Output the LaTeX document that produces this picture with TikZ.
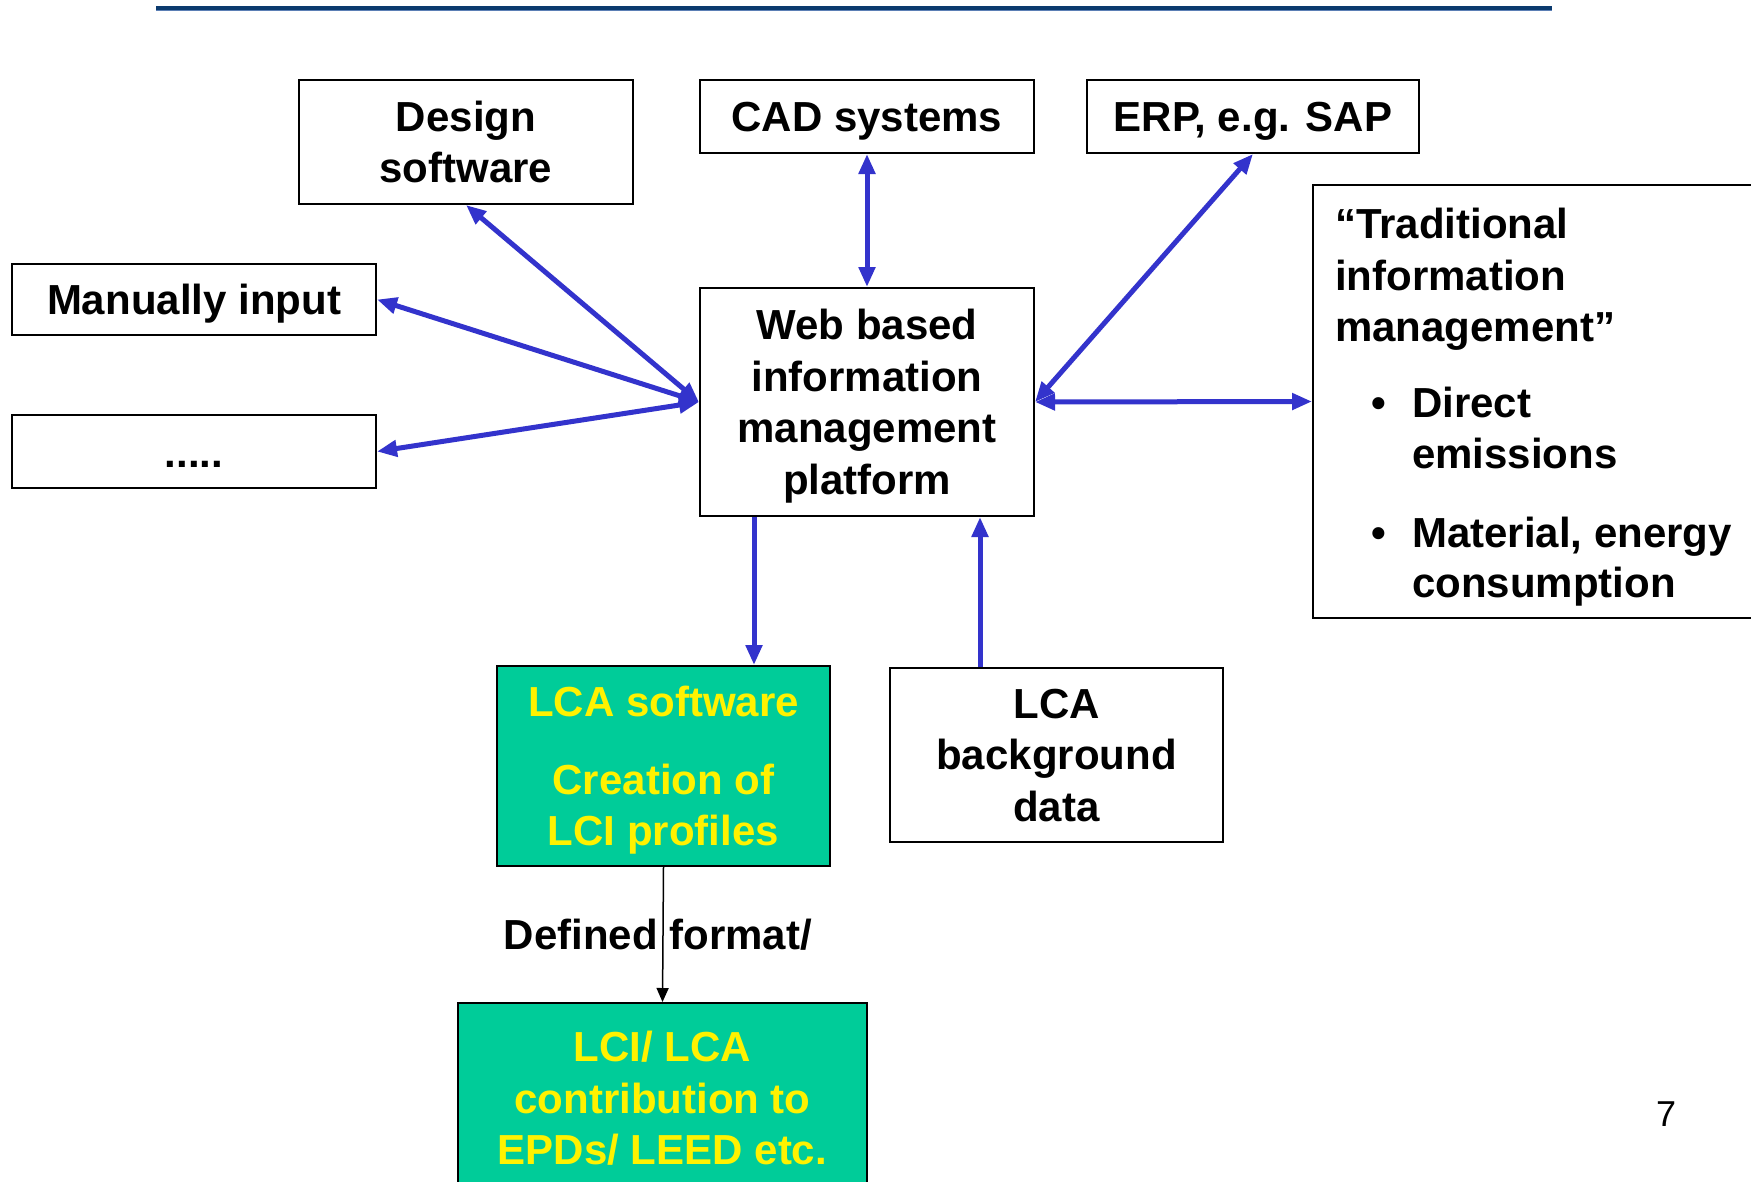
\documentclass[tikz,border=0pt]{standalone}
\usepackage{fontspec}
\setmainfont{Liberation Sans}
\usetikzlibrary{arrows.meta}
\definecolor{arrowblue}{HTML}{3333CC}
\definecolor{boxgreen}{HTML}{00CC99}
\definecolor{navy}{HTML}{0B3A6E}
\definecolor{navylight}{HTML}{5B7FB5}
\newcommand{\bigfont}{\fontsize{42}{51.5}\selectfont\bfseries}
\newcommand{\nodepth}[2][0pt]{\raisebox{0pt}[\height][#1]{#2}}
\tikzset{
 box/.style={draw=black, line width=2pt, fill=white, inner sep=0pt, align=center, font=\bigfont},
 greenbox/.style={box, fill=boxgreen, text=yellow},
 barrow/.style={draw=arrowblue, line width=5pt, {Triangle[length=20pt,width=16pt]}-{Triangle[length=20pt,width=16pt]}},
 sarrow/.style={draw=arrowblue, line width=5pt, -{Triangle[length=20pt,width=16pt]}},
 thinarrow/.style={draw=black, line width=1.5pt, -{Triangle[length=14pt,width=12pt]}},
 txt/.style={inner sep=0pt, font=\bigfont, anchor=base west},
}
\begin{document}
\begin{tikzpicture}[x=1pt, y=-1pt]
\useasboundingbox (0,0) rectangle (1751,1181);
\fill[white] (0,0) rectangle (1751,1181);
% top rule
\fill[navy] (156,6) rectangle (1552,10);
\draw[navylight, line width=1pt] (156,10.5) -- (1552,10.5);
% boxes
\node[box, minimum width=334pt, minimum height=124pt] (design) at (466,142) {Design\\\nodepth{software}};
\node[box, minimum width=334pt, minimum height=73pt] (cad) at (867,116.5) {\nodepth{CAD systems}};
\node[box, minimum width=332pt, minimum height=73pt] (erp) at (1253,116.5) {\nodepth{ERP, e.g. SAP}};
\node[box, minimum width=364pt, minimum height=71pt] (manual) at (194,299.5) {\nodepth{Manually input}};
\node[box, minimum width=364pt, minimum height=73pt] (dots) at (194,451.5) {\raisebox{0pt}[31pt][0pt]{.....}};
\node[box, minimum width=334pt, minimum height=228pt] (web) at (867,402) {Web based\\information\\management\\\nodepth[-2pt]{platform}};
\node[box, minimum width=487pt, minimum height=433pt] (trad) at (1556.5,401.5) {};
\node[greenbox, minimum width=333pt, minimum height=200pt] (lcasw) at (663.5,766) {LCA software\\[26pt]Creation of\\\nodepth[-13pt]{LCI profiles}};
\node[box, minimum width=333pt, minimum height=174pt] (lcabg) at (1056.5,755) {LCA\\background\\\nodepth[-2pt]{data}};
\node[greenbox, minimum width=409pt, minimum height=190pt] (lci) at (662.5,1098) {LCI/ LCA\\contribution to\\\nodepth{EPDs/ LEED etc.}};
% traditional text
\node[txt] (t1) at (1335,238) {“Traditional};
\node[txt] (t2) at (1335,290) {information};
\node[txt] (t3) at (1335,341) {management”};
\node[txt, anchor=base] (b1) at (1379,417) {•};
\node[txt] (t4) at (1412,417) {Direct};
\node[txt] (t5) at (1412,468) {emissions};
\node[txt, anchor=base] (b2) at (1379,547) {•};
\node[txt] (t6) at (1412,547) {Material, energy};
\node[txt] (t7) at (1412,597) {consumption};
% connectors
\draw[barrow] (design.south) -- (web.west);
\draw[barrow] (manual.east) -- (web.west);
\draw[barrow] (dots.east) -- (web.west);
\draw[barrow] (cad.south) -- (web.north);
\draw[barrow] (erp.south) -- (web.east);
\draw[barrow] (web.east) -- (trad.west);
\draw[sarrow] ([xshift=-113pt]web.south) -- ([xshift=-113pt]web.south |- lcasw.north);
\draw[sarrow] ([xshift=113pt]web.south |- lcabg.north) -- ([xshift=113pt]web.south);
\draw[thinarrow] (lcasw.south) -- (lci.north);
\node[txt, anchor=base] (deflabel) at (658,949) {Defined format/};
% page number
\node[inner sep=0pt, font=\fontsize{36}{43}\selectfont, anchor=base] (pagenum) at (1666,1126) {7};
\end{tikzpicture}
\end{document}
